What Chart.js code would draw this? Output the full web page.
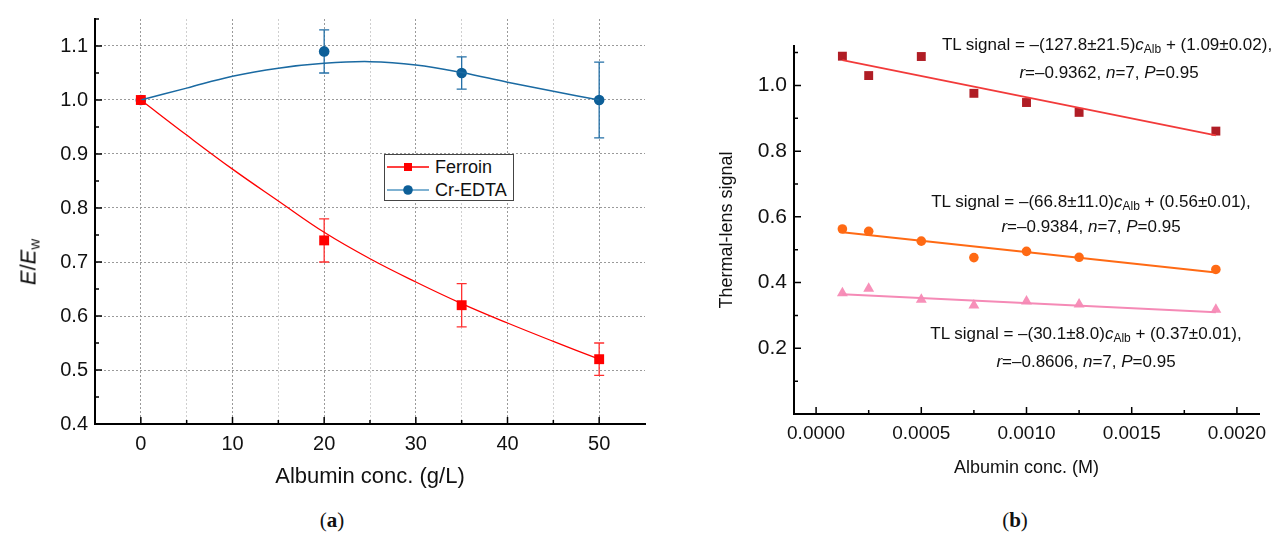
<!DOCTYPE html>
<html>
<head>
<meta charset="utf-8">
<script src="https://cdn.jsdelivr.net/npm/chart.js@4.4.1/dist/chart.umd.min.js"></script>
<style>
  body { margin: 0; width: 1277px; height: 533px; background: #fff; position: relative; overflow: hidden;
         font-family: "Liberation Sans", Arial, sans-serif; color: #111; }
  canvas { position: absolute; top: 0; }
  #chartA { left: 0; }
  #chartB { left: 660px; }
  .txt { position: absolute; white-space: nowrap; transform: translate(-50%, -50%); font-size: 17px; }
  .txt sub { font-size: 12px; vertical-align: -3px; }
  .cap { position: absolute; top: 520px; transform: translate(-50%, -50%); font-family: "Liberation Serif", serif; font-size: 21px; }
  #ytitleA { position: absolute; left: 29px; top: 262px; transform: translate(-50%, -50%) rotate(-90deg); font-size: 22px; white-space: nowrap; }
  #ytitleA sub { font-size: 15px; font-style: normal; vertical-align: -4px; }
  #legend { position: absolute; left: 384px; top: 154px; width: 128px; height: 45px; border: 1.5px solid #444; background: #fff; }
  .row { position: absolute; left: 0; width: 128px; height: 22px; font-size: 18px; line-height: 22px; white-space: nowrap; }
  .row svg { position: absolute; left: 2px; top: 4px; }
  .row span { position: absolute; left: 50px; }
</style>
</head>
<body>
<canvas id="chartA" width="660" height="500"></canvas>
<canvas id="chartB" width="617" height="500"></canvas>

<div id="ytitleA"><i>E</i>/<i>E</i><sub>w</sub></div>
<div id="legend">
  <div class="row" style="top:1px">
    <svg width="44" height="14"><line x1="0" y1="7" x2="42" y2="7" stroke="#ff0000" stroke-width="1.5"/><rect x="17" y="3" width="8" height="8" fill="#ff0000"/></svg>
    <span>Ferroin</span>
  </div>
  <div class="row" style="top:24px">
    <svg width="44" height="14"><line x1="0" y1="7" x2="42" y2="7" stroke="#7fb2d2" stroke-width="2"/><circle cx="21" cy="7" r="4.8" fill="#0d5f98"/></svg>
    <span>Cr-EDTA</span>
  </div>
</div>

<div class="txt" style="left:1107px;top:45px">TL signal = –(127.8±21.5)<i>c</i><sub>Alb</sub> + (1.09±0.02),</div>
<div class="txt" style="left:1109px;top:73px"><i>r</i>=–0.9362, <i>n</i>=7, <i>P</i>=0.95</div>
<div class="txt" style="left:1091px;top:202px">TL signal = –(66.8±11.0)<i>c</i><sub>Alb</sub> + (0.56±0.01),</div>
<div class="txt" style="left:1091px;top:227px"><i>r</i>=–0.9384, <i>n</i>=7, <i>P</i>=0.95</div>
<div class="txt" style="left:1086px;top:334px">TL signal = –(30.1±8.0)<i>c</i><sub>Alb</sub> + (0.37±0.01),</div>
<div class="txt" style="left:1086px;top:362px"><i>r</i>=–0.8606, <i>n</i>=7, <i>P</i>=0.95</div>

<div class="cap" style="left:332px">(<b>a</b>)</div>
<div class="cap" style="left:1015px">(<b>b</b>)</div>

<script>
// ---- (a) E/Ew vs albumin (g/L)
const albuminGL = [0, 20, 35, 50];
const ferroin = [1.0, 0.74, 0.62, 0.52];
const ferroinErr = [0, 0.04, 0.04, 0.03];
const crEdta = [1.0, 1.09, 1.05, 1.0];
const crEdtaErr = [0, 0.04, 0.03, 0.07];
// smooth curves
const curveX = [0, 5, 10, 15, 20, 25, 30, 35, 40, 45, 50];
const ferroinCurve = [1.0, 0.935, 0.872, 0.813, 0.755, 0.706, 0.663, 0.623, 0.587, 0.553, 0.52];
const crEdtaCurve = [1.0, 1.022, 1.044, 1.059, 1.068, 1.071, 1.065, 1.051, 1.033, 1.016, 1.0];
const ticksAX = [0, 5, 10, 15, 20, 25, 30, 35, 40, 45, 50];
const ticksAY = [0.4, 0.5, 0.6, 0.7, 0.8, 0.9, 1.0, 1.1];
const minorAY = [0.45, 0.55, 0.65, 0.75, 0.85, 0.95, 1.05, 1.15];
const minorAX = [5, 15, 25, 35, 45];
const majorAX = [0, 10, 20, 30, 40, 50];

// ---- (b) thermal-lens signal vs albumin (M)
const albuminM = [0.000125, 0.00025, 0.0005, 0.00075, 0.001, 0.00125, 0.0019];
const tlHigh = [1.089, 1.030, 1.088, 0.976, 0.948, 0.918, 0.861];
const tlMid = [0.563, 0.556, 0.526, 0.476, 0.495, 0.477, 0.440];
const tlLow = [0.368, 0.382, 0.348, 0.331, 0.343, 0.334, 0.318];
const fitX = [0.000125, 0.0019];
const fitHigh = [1.077, 0.848];
const fitMid = [0.553, 0.431];
const fitLow = [0.3645, 0.310];
const ticksBX = [0, 0.0005, 0.001, 0.0015, 0.002];
const minorBX = [0.00025, 0.00075, 0.00125, 0.00175];
const ticksBY = [0.2, 0.4, 0.6, 0.8, 1.0];
const minorBY = [0.1, 0.3, 0.5, 0.7, 0.9, 1.1];

const pts = (xs, ys) => xs.map((x, i) => ({ x: x, y: ys[i] }));
const FONT = '"Liberation Sans", Arial, sans-serif';

// tick marks pointing into the plot, major and minor
const innerTicks = {
  id: "innerTicks",
  afterDraw(chart, args, opts) {
    const ctx = chart.ctx;
    const { left, bottom } = chart.chartArea;
    const xs = chart.scales.x, ys = chart.scales.y;
    ctx.save();
    ctx.strokeStyle = "#000";
    ctx.lineWidth = 1.5;
    ctx.beginPath();
    opts.xMajor.forEach((v) => { const p = xs.getPixelForValue(v); ctx.moveTo(p, bottom); ctx.lineTo(p, bottom - 7); });
    opts.xMinor.forEach((v) => { const p = xs.getPixelForValue(v); ctx.moveTo(p, bottom); ctx.lineTo(p, bottom - 4); });
    opts.yMajor.forEach((v) => { const p = ys.getPixelForValue(v); ctx.moveTo(left, p); ctx.lineTo(left + 7, p); });
    opts.yMinor.forEach((v) => { const p = ys.getPixelForValue(v); ctx.moveTo(left, p); ctx.lineTo(left + 4, p); });
    ctx.stroke();
    ctx.restore();
  },
};

// vertical error bars with caps for datasets that carry an "errors" array
const errorBars = {
  id: "errorBars",
  beforeDatasetsDraw(chart) {
    const ctx = chart.ctx;
    const ys = chart.scales.y;
    chart.data.datasets.forEach((ds, di) => {
      if (!ds.errors) return;
      const meta = chart.getDatasetMeta(di);
      ctx.save();
      ctx.strokeStyle = ds.errorColor;
      ctx.lineWidth = 1.3;
      meta.data.forEach((el, i) => {
        const e = ds.errors[i];
        if (!e) return;
        const top = ys.getPixelForValue(ds.data[i].y + e);
        const bot = ys.getPixelForValue(ds.data[i].y - e);
        ctx.beginPath();
        ctx.moveTo(el.x, top); ctx.lineTo(el.x, bot);
        ctx.moveTo(el.x - 5, top); ctx.lineTo(el.x + 5, top);
        ctx.moveTo(el.x - 5, bot); ctx.lineTo(el.x + 5, bot);
        ctx.stroke();
      });
      ctx.restore();
    });
  },
};

const fixTicks = (arr) => (scale) => { scale.ticks = arr.map((v) => ({ value: v })); };

new Chart(document.getElementById("chartA"), {
  type: "scatter",
  data: {
    datasets: [
      { data: pts(curveX, ferroinCurve), showLine: true, borderColor: "#ff0000", borderWidth: 1.3,
        pointRadius: 0, tension: 0.4 },
      { data: pts(curveX, crEdtaCurve), showLine: true, borderColor: "#1a6aa2", borderWidth: 1.5,
        pointRadius: 0, tension: 0.4 },
      { data: pts(albuminGL, ferroin), errors: ferroinErr, errorColor: "#ff3030",
        pointStyle: "rect", pointRadius: 7, backgroundColor: "#ff0000", borderWidth: 0 },
      { data: pts(albuminGL, crEdta), errors: crEdtaErr, errorColor: "#236fa6",
        pointStyle: "circle", pointRadius: 5.3, backgroundColor: "#0d5f98", borderWidth: 0 },
    ],
  },
  options: {
    responsive: false,
    animation: false,
    layout: { padding: { top: 15, right: 15, left: 0, bottom: 0 } },
    plugins: {
      legend: { display: false },
      tooltip: { enabled: false },
      innerTicks: { xMajor: majorAX, xMinor: minorAX, yMajor: ticksAY, yMinor: minorAY },
    },
    scales: {
      x: {
        type: "linear", min: -5, max: 55,
        afterBuildTicks: fixTicks(ticksAX),
        afterFit: (s) => { s.height = 76; s.paddingLeft = 0; s.paddingRight = 0; },
        grid: { drawTicks: false, color: (c) => (c.tick && c.tick.value % 10 === 0 ? "#9a9a9a" : "#cfcfcf") },
        border: { color: "#000", width: 2, dash: [2, 2] },
        ticks: { color: "#111", padding: 8, font: { family: FONT, size: 20 },
                 callback: (v) => (v % 10 === 0 ? String(v) : "") },
        title: { display: true, text: "Albumin conc. (g/L)", color: "#111", font: { family: FONT, size: 22 },
                 padding: { top: 0, bottom: 10 } },
      },
      y: {
        min: 0.4, max: 1.15,
        afterBuildTicks: fixTicks(ticksAY),
        afterFit: (s) => { s.width = 95; },
        grid: { drawTicks: false, color: "#9a9a9a" },
        border: { color: "#000", width: 2, dash: [2, 2] },
        ticks: { color: "#111", padding: 7, font: { family: FONT, size: 20 }, callback: (v) => v.toFixed(1) },
      },
    },
  },
  plugins: [innerTicks, errorBars],
});

new Chart(document.getElementById("chartB"), {
  type: "scatter",
  data: {
    datasets: [
      { data: pts(fitX, fitHigh), showLine: true, borderColor: "#f23a3a", borderWidth: 2, pointRadius: 0 },
      { data: pts(fitX, fitMid), showLine: true, borderColor: "#ff6a14", borderWidth: 2, pointRadius: 0 },
      { data: pts(fitX, fitLow), showLine: true, borderColor: "#f58ab6", borderWidth: 2, pointRadius: 0 },
      { data: pts(albuminM, tlHigh), pointStyle: "rect", pointRadius: 6.3, backgroundColor: "#b01d25", borderWidth: 0 },
      { data: pts(albuminM, tlMid), pointStyle: "circle", pointRadius: 4.8, backgroundColor: "#ff6a14", borderWidth: 0 },
      { data: pts(albuminM, tlLow), pointStyle: "triangle", pointRadius: 6.3, backgroundColor: "#f790b9", borderWidth: 0 },
    ],
  },
  options: {
    responsive: false,
    animation: false,
    layout: { padding: { top: 46, right: 18, left: 0, bottom: 0 } },
    plugins: {
      legend: { display: false },
      tooltip: { enabled: false },
      innerTicks: { xMajor: ticksBX, xMinor: minorBX, yMajor: ticksBY, yMinor: minorBY },
    },
    scales: {
      x: {
        type: "linear", min: -0.000105, max: 0.002105,
        afterBuildTicks: fixTicks(ticksBX),
        afterFit: (s) => { s.height = 86; s.paddingLeft = 0; s.paddingRight = 0; },
        grid: { display: false, drawTicks: false },
        border: { color: "#000", width: 2 },
        ticks: { color: "#111", padding: 8, font: { family: FONT, size: 19 }, callback: (v) => v.toFixed(4) },
        title: { display: true, text: "Albumin conc. (M)", color: "#111", font: { family: FONT, size: 18 },
                 padding: { top: 0, bottom: 21 } },
      },
      y: {
        min: 0, max: 1.12,
        afterBuildTicks: fixTicks(ticksBY),
        afterFit: (s) => { s.width = 134; },
        grid: { display: false, drawTicks: false },
        border: { color: "#000", width: 2 },
        ticks: { color: "#111", padding: 7, font: { family: FONT, size: 21 }, callback: (v) => v.toFixed(1) },
        title: { display: true, text: "Thermal-lens signal", color: "#111", font: { family: FONT, size: 18 },
                 padding: { top: 56, bottom: 0 } },
      },
    },
  },
  plugins: [innerTicks],
});
</script>
</body>
</html>
